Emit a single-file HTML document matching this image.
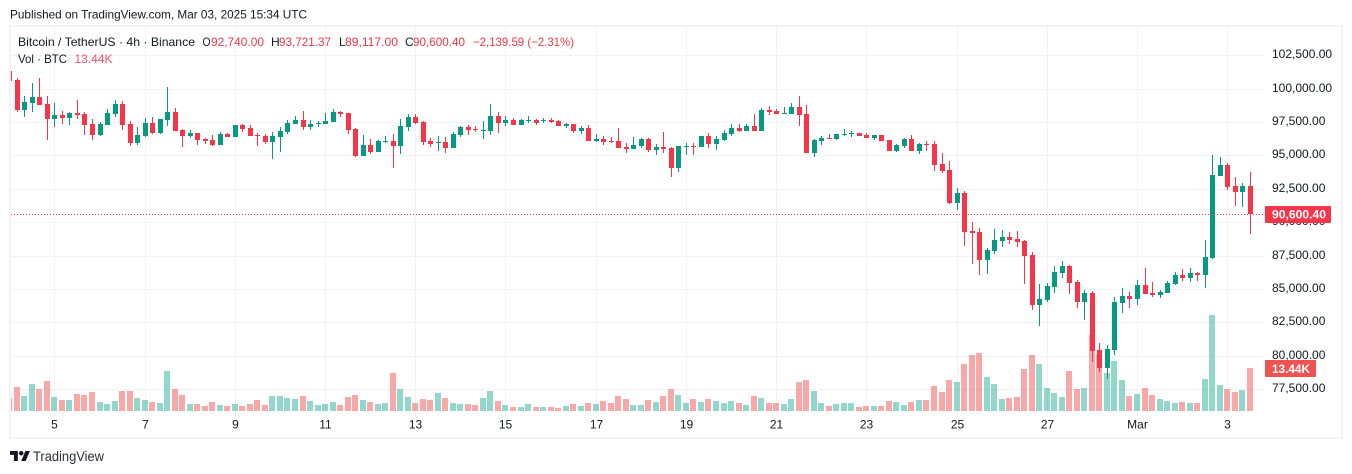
<!DOCTYPE html>
<html lang="en">
<head>
<meta charset="utf-8">
<title>BTC/USDT 4h chart</title>
<style>
html,body{margin:0;padding:0;background:#fff;width:1352px;height:474px;overflow:hidden}
svg{display:block;font-family:"Liberation Sans",sans-serif}
text{fill:#131722}
</style>
</head>
<body>
<svg id="chart" width="1352" height="474" viewBox="0 0 1352 474" xmlns="http://www.w3.org/2000/svg">
  <defs>
    <clipPath id="pane-clip"><rect x="11" y="27" width="1252" height="390"/></clipPath>
  </defs>
  <text x="10" y="18.5" font-size="12" textLength="297" lengthAdjust="spacingAndGlyphs" fill="#2a2e39">Published on TradingView.com, Mar 03, 2025 15:34 UTC</text>
  <rect x="10" y="26" width="1332" height="412" fill="#fff" stroke="#f1f2f4" stroke-width="2"/>
  <g id="grid"></g>
  <g id="vol" clip-path="url(#pane-clip)"></g>
  <g id="candles" clip-path="url(#pane-clip)"></g>
  <g id="last"></g>
  <g id="yaxis"></g>
  <g id="xaxis"></g>
  <g id="tags"></g>
  <g font-size="12">
    <text x="18" y="46" textLength="177" lengthAdjust="spacingAndGlyphs">Bitcoin / TetherUS · 4h · Binance</text>
    <text x="202.5" y="46" textLength="8" lengthAdjust="spacingAndGlyphs">O</text>
    <text x="211" y="46" textLength="53" lengthAdjust="spacingAndGlyphs" style="fill:#f23645">92,740.00</text>
    <text x="271" y="46">H</text>
    <text x="279" y="46" textLength="52" lengthAdjust="spacingAndGlyphs" style="fill:#f23645">93,721.37</text>
    <text x="339" y="46">L</text>
    <text x="345" y="46" textLength="53" lengthAdjust="spacingAndGlyphs" style="fill:#f23645">89,117.00</text>
    <text x="405" y="46">C</text>
    <text x="413" y="46" textLength="52" lengthAdjust="spacingAndGlyphs" style="fill:#f23645">90,600.40</text>
    <text x="473" y="46" textLength="101" lengthAdjust="spacingAndGlyphs" style="fill:#f23645">−2,139.59 (−2.31%)</text>
    <text x="18" y="63" textLength="49" lengthAdjust="spacingAndGlyphs">Vol · BTC</text>
    <text x="74.5" y="63" textLength="38" lengthAdjust="spacingAndGlyphs" style="fill:#f7525f">13.44K</text>
  </g>
  <g>
    <g transform="translate(10,447.6) scale(0.56)" fill="#131722">
      <path d="M14 6H0v7h7v11h7V6Z M28 24h-8l7.5-18h8L28 24Z"/>
      <circle cx="20" cy="10" r="4"/>
    </g>
    <text x="33" y="461" font-size="13.5" textLength="71" lengthAdjust="spacingAndGlyphs" style="fill:#2a2e39">TradingView</text>
  </g>
</svg>
<script>
const open = [101335,
100660,98410,98935,99385,98860,97735,98035,97810,98185,98110,
97360,96535,97285,98110,98860,97360,95935,96460,97435,96685,
97660,98260,96910,96460,96685,96235,96160,95785,96610,96385,
97285,97060,96535,96460,96010,96385,96760,97360,97660,97135,
97360,97360,97510,98285,98185,96985,94960,95785,95260,96010,
96085,95710,97135,97885,97510,96085,95960,96010,95560,96535,
97135,96985,96860,96835,97960,97435,97660,97285,97585,97660,
97585,97635,97585,97210,97360,96835,97060,96085,96235,96085,
96085,95635,95485,95710,96235,95410,95635,95560,94060,95635,
95710,95635,96460,95860,96160,96610,97060,96835,97210,96835,
98410,98335,98135,98110,98635,98110,95185,96085,96310,96235,
96535,96610,96685,96535,96310,96535,96160,95335,95710,96235,
95335,95860,95860,94360,93910,91435,92185,89335,89260,87160,
87835,88585,88885,88735,88585,87535,83785,84160,85135,86185,
86710,85510,84010,84685,80410,79060,80410,83935,84460,84235,
85285,84685,84535,84685,85360,86035,85810,86185,86035,87310,
93460,94285,92710,92260,92740];
const close = [100585,
98410,99010,99385,98785,97735,98035,97810,98185,98035,97285,
96535,97360,98185,98860,97285,95935,96535,97435,96685,97735,
98260,96835,96460,96685,96160,96085,95785,96610,96385,97285,
96985,96460,96460,96010,96460,96835,97435,97660,97135,97360,
97435,97585,98260,98135,96910,94960,95785,95260,96085,96085,
95710,97210,97885,97435,96010,95860,96010,95560,96610,97135,
96910,96885,96910,97960,97435,97660,97285,97660,97660,97435,
97635,97535,97210,97360,96835,97060,96085,96235,96010,96010,
95560,95485,95785,96235,95410,95635,95485,94060,95710,95710,
95635,96460,95860,96235,96685,97060,96835,97210,96835,98410,
98260,98110,98185,98635,98035,95185,96160,96310,96235,96610,
96610,96685,96460,96310,96535,96085,95335,95785,96235,95335,
95860,95785,94285,93835,91435,92185,89260,89185,87160,87910,
88660,88885,88660,88510,87460,83785,84235,85210,86260,86710,
85435,84010,84685,80335,79060,80485,84010,84460,84235,85285,
84610,84535,84760,85435,86035,85810,86185,86035,87385,93535,
94285,92635,92260,92710,90600];
const high = [101335,
100810,99460,100435,100810,99460,98935,98335,98260,99160,98260,
97735,97510,98485,99160,99085,97585,97135,97810,97885,97735,
100135,98560,96985,96910,96685,96310,96535,96760,96685,97285,
97360,97285,96685,96610,96760,97135,97660,97960,98335,97660,
97585,98185,98485,98335,98185,97060,96535,96235,96160,96460,
96610,97735,98110,98110,97585,96310,96460,96385,96760,97210,
97285,97210,97585,98860,98260,97960,97810,97735,97960,97735,
97810,97810,97660,97435,97360,97210,97285,96610,96460,96385,
97060,95935,96385,96310,96310,95860,96760,95635,95710,95935,
95935,96460,96685,96460,96910,97360,97360,97360,98110,98560,
98710,98485,98635,98935,99460,98785,96235,96460,96610,96610,
96985,96835,96685,96685,96535,96535,96160,95860,96310,96535,
95935,96085,96085,95185,94585,92560,92335,90010,89560,88060,
89485,89410,89260,89335,88660,87760,85360,85435,86710,87085,
86785,85660,84910,84835,80935,80785,84385,85060,84760,85660,
86560,85510,84910,85585,86260,86485,86560,86260,88660,95035,
94885,94435,93385,92935,93721];
const low = [100585,
98260,97885,98260,98785,96160,97135,97360,97285,97735,96535,
96160,96460,97285,97885,96910,95710,95785,96385,96610,96610,
97210,96835,95635,96310,95785,95860,95710,95785,96385,96385,
96760,96460,95710,95860,94735,95260,96610,97360,96910,96910,
97135,97360,97510,97910,96610,94885,94960,95110,95260,95935,
94060,95110,96835,97360,95785,95635,95335,95185,95560,96385,
96535,96760,96235,96535,96685,97210,97285,97285,97435,97285,
97435,97435,97210,97060,96685,96610,96085,96010,95785,95935,
95560,95185,95485,95560,95260,95035,95185,93385,93760,95035,
95035,95635,95560,95410,96085,96460,96760,96835,96835,96835,
98035,98110,98135,98110,97210,95185,94885,95785,96235,96160,
96460,96385,96460,96310,96160,96085,95335,95260,95560,95335,
95110,95335,93835,93685,91360,90910,88210,86860,86035,86110,
87610,88135,88360,88135,85360,83410,82210,84010,84685,85810,
84610,83560,82660,79510,78760,78235,80035,83185,83560,83785,
84610,84385,84310,84685,85285,85585,85510,85585,85060,87235,
93460,92410,91210,91135,89117];
const volumeK = [4.06,
7.5,4.69,8.44,6.88,9.38,4.38,3.44,3.44,5.31,5,
5.94,2.81,2.19,3.13,6.25,6.25,4.06,3.44,2.81,2.5,
12.5,6.88,5,2.19,2.19,1.56,2.81,1.88,1.56,2.19,
1.56,2.19,3.44,1.88,4.69,4.69,4.06,3.75,4.69,3.13,
1.88,2.19,2.81,1.88,4.38,5,3.44,2.81,2.19,2.5,
11.88,6.88,4.38,2.5,3.75,3.44,5.63,4.06,2.5,2.19,
2.19,1.88,4.06,6.25,3.13,1.88,1.25,1.25,2.19,1.25,
1.25,1.25,0.94,1.56,2.19,1.56,2.5,2.19,3.13,2.5,
4.69,3.75,1.88,1.88,3.44,2.81,4.69,6.88,5,2.5,
3.75,2.81,3.75,3.13,2.5,3.13,2.5,1.88,4.69,4.06,
2.5,2.5,2.19,3.75,9.06,9.69,6.25,2.5,1.56,2.19,
2.5,2.5,1.25,1.56,1.56,1.56,3.13,2.81,1.88,2.81,
3.44,3.44,7.81,5.94,9.69,9.06,14.69,17.5,18.13,10.63,
8.44,3.75,4.06,4.38,13.13,17.5,14.69,7.19,5.63,4.38,
12.5,6.88,7.19,23.75,17.5,11.88,15.63,9.69,4.69,5.31,
7.19,5,3.75,3.13,2.5,2.81,2.5,2.5,10,30,
8.13,6.88,5.94,6.56,13.44];
const priceTicks = [102500,100000,97500,95000,92500,90000,87500,85000,82500,80000,77500];
const timeTickLabels = ['5','7','9','11','13','15','17','19','21','23','25','27','Mar','3'];
const timeTickCandles = [6,18,30,42,54,66,78,90,102,114,126,138,150,162];
const lastPrice = 90600.40;
const lastVolumeK = 13.44;

const UP = '#089981';
const DOWN = '#f63549';
const UP_VOL = 'rgba(34,171,148,.49)';
const DOWN_VOL = 'rgba(243,82,85,.5)';
const GRID = '#f1f2f4';
const NS = 'http://www.w3.org/2000/svg';

function indexToX(i){ return 9.8 + 7.518 * i; }
function priceToY(p){ return 155.4 + (95000 - p) * 0.013355; }
function volToY(v){ return 411 - v * 3.2; }
function fmt(n){ return n.toLocaleString('en-US',{minimumFractionDigits:2,maximumFractionDigits:2}); }
function make(parent, tag, attrs, txt){
  const el = document.createElementNS(NS, tag);
  for (const k in attrs) el.setAttribute(k, attrs[k]);
  if (txt !== undefined) el.textContent = txt;
  parent.appendChild(el);
  return el;
}
const gridG = document.getElementById('grid');
const volG = document.getElementById('vol');
const candleG = document.getElementById('candles');
const lastG = document.getElementById('last');
const yG = document.getElementById('yaxis');
const xG = document.getElementById('xaxis');
const tagG = document.getElementById('tags');

priceTicks.forEach(function(p){
  const y = Math.round(priceToY(p));
  const line = make(gridG, 'rect', {x:11, y:y, width:1252, height:1, fill:GRID});
  
  
  const label = make(yG, 'text', {x:1272, y:y + 3, 'font-size':12}, fmt(p));
  
  
});
timeTickCandles.forEach(function(c, i){
  const x = Math.floor(indexToX(c));
  const line = make(gridG, 'rect', {x:x, y:27, width:1, height:390, fill:GRID});
  
  
  const label = make(xG, 'text', {x:x + 0.5, y:428.5, 'font-size':12, 'text-anchor':'middle'}, timeTickLabels[i]);
  
  
});
volumeK.forEach(function(v, i){
  const c = Math.floor(indexToX(i));
  const y = volToY(v);
  const bar = make(volG, 'rect', {x:c - 3, y:y, width:6, height:411 - y, fill: close[i] < open[i] ? DOWN_VOL : UP_VOL});
  
  
});
open.forEach(function(o, i){
  const cl = close[i];
  const c = Math.floor(indexToX(i));
  const col = cl < o ? DOWN : UP;
  const wt = Math.round(priceToY(high[i]));
  const wb = Math.round(priceToY(low[i]));
  const bt = Math.round(priceToY(Math.max(o, cl)));
  const bb = Math.round(priceToY(Math.min(o, cl)));
  const wick = make(candleG, 'rect', {x:c, y:wt, width:1, height:Math.max(1, wb - wt), fill:col});
  
  
  const body = make(candleG, 'rect', {x:c - 2, y:bt, width:5, height:Math.max(1, bb - bt), fill:col});
  
  
});
const ly = Math.round(priceToY(lastPrice)) + 0.5;
const lastLine = make(lastG, 'line', {x1:11, x2:1263, y1:ly, y2:ly, stroke:DOWN, 'stroke-width':1, 'stroke-dasharray':'1 2'});


const priceBox = make(tagG, 'rect', {x:1265, y:ly - 8.5, width:66, height:17, fill:DOWN, rx:1});


const priceTxt = make(tagG, 'text', {x:1272, y:ly + 4, 'font-size':12, 'font-weight':'bold', style:'fill:#fff', textLength:54, lengthAdjust:'spacingAndGlyphs'}, fmt(lastPrice));


const volBox = make(tagG, 'rect', {x:1265, y:360, width:51, height:17, fill:'#ef5350', rx:1});


const volTxt = make(tagG, 'text', {x:1272, y:373, 'font-size':12, 'font-weight':'bold', style:'fill:#fff', textLength:38, lengthAdjust:'spacingAndGlyphs'}, lastVolumeK.toFixed(2) + 'K');


</script>
</body>
</html>
